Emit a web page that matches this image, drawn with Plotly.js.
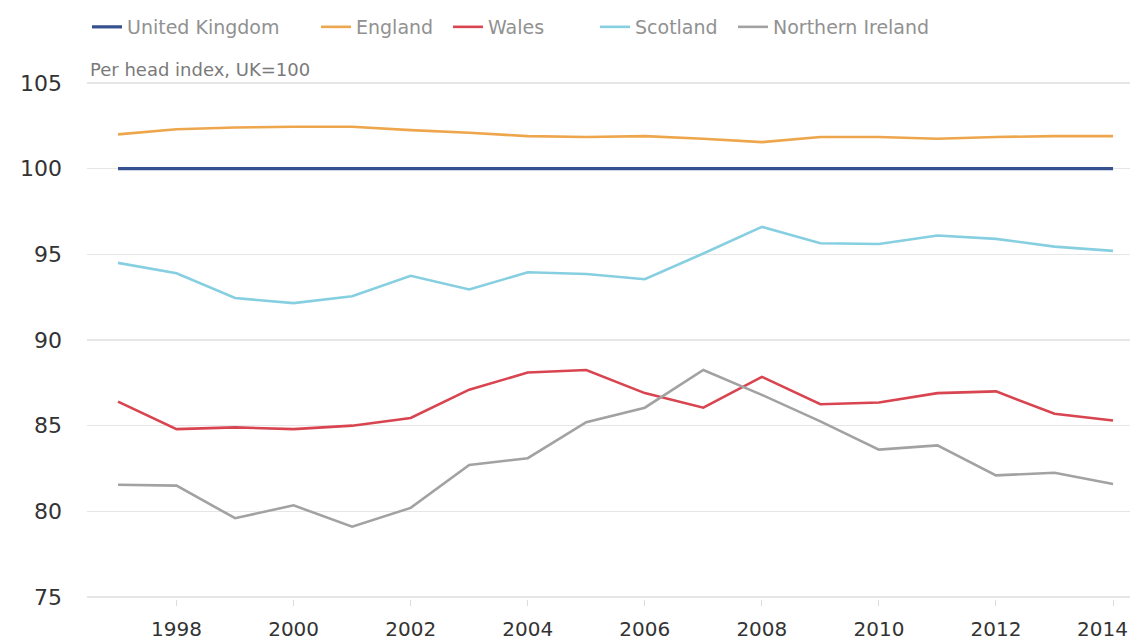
<!DOCTYPE html>
<html>
<head>
<meta charset="utf-8">
<script src="https://cdn.plot.ly/plotly-3.0.1.min.js"></script>
<style>
  html, body { margin: 0; padding: 0; background: #ffffff; }
  #chart { width: 1136px; height: 641px; }
</style>
</head>
<body>
<div id="chart"></div>
<script>
const years = [1997, 1998, 1999, 2000, 2001, 2002, 2003, 2004, 2005, 2006, 2007, 2008, 2009, 2010, 2011, 2012, 2013, 2014];

const unitedKingdom = [100, 100, 100, 100, 100, 100, 100, 100, 100, 100, 100, 100, 100, 100, 100, 100, 100, 100];
const england = [102.0, 102.3, 102.4, 102.45, 102.45, 102.25, 102.1, 101.9, 101.85, 101.9, 101.75, 101.55, 101.85, 101.85, 101.75, 101.85, 101.9, 101.9];
const wales = [86.4, 84.8, 84.9, 84.8, 85.0, 85.45, 87.1, 88.1, 88.25, 86.9, 86.05, 87.85, 86.25, 86.35, 86.9, 87.0, 85.7, 85.3];
const scotland = [94.5, 93.9, 92.45, 92.15, 92.55, 93.75, 92.95, 93.95, 93.85, 93.55, 95.05, 96.6, 95.65, 95.6, 96.1, 95.9, 95.45, 95.2];
const northernIreland = [81.55, 81.5, 79.6, 80.35, 79.1, 80.2, 82.7, 83.1, 85.2, 86.05, 88.25, 86.8, 85.25, 83.6, 83.85, 82.1, 82.25, 81.6];

const seriesNames = ["United Kingdom", "England", "Wales", "Scotland", "Northern Ireland"];
const xTickValues = [1998, 2000, 2002, 2004, 2006, 2008, 2010, 2012, 2014];
const xTickLabels = ["1998", "2000", "2002", "2004", "2006", "2008", "2010", "2012", "2014"];
const yTickValues = [75, 80, 85, 90, 95, 100, 105];
const yTickLabels = ["75", "80", "85", "90", "95", "100", "105"];
const subtitleText = "Per head index, UK=100";

const seriesValues = [unitedKingdom, england, wales, scotland, northernIreland];
const seriesColors = ["#34508f", "#eea64c", "#d8444f", "#86cfe1", "#a2a2a2"];
const seriesWidths = [3.2, 2.6, 2.6, 2.6, 2.6];
const legendIds = ["legend", "legend2", "legend3", "legend4", "legend5"];

const traces = seriesNames.map((name, i) => ({
  type: "scatter",
  mode: "lines",
  name: name,
  x: years,
  y: seriesValues[i],
  line: { color: seriesColors[i], width: seriesWidths[i] },
  legend: legendIds[i],
  hoverinfo: "x+y+name"
}));

const plotLeft = 87, plotRight = 1130, plotTop = 81, plotBottom = 599;
const pxPerUnit = (597 - 83) / 30;
const pw = plotRight - plotLeft, ph = plotBottom - plotTop;
function px2x(p) { return (p - plotLeft) / pw; }
function py2y(p) { return (plotBottom - p) / ph; }

const tickFont = { family: "DejaVu Sans", size: 20, color: "#333333" };
const lastIdx = xTickValues.length - 1;
// The last tick label sits at the right edge; it is drawn as an annotation
// anchored to the axis value and nudged left so it stays fully visible.
const shownTickText = xTickLabels.map((t, i) => (i === lastIdx ? "" : t));

const legendTextStarts = [129, 358, 490, 637, 775];
const legendFont = { family: "DejaVu Sans", size: 19, color: "#919191" };

const layout = {
  width: 1136,
  height: 641,
  autosize: false,
  paper_bgcolor: "#ffffff",
  plot_bgcolor: "#ffffff",
  margin: { l: plotLeft, r: 1136 - plotRight, t: plotTop, b: 641 - plotBottom, pad: 0 },
  showlegend: true,
  xaxis: {
    range: [1996.47, 2014.29],
    tickmode: "array",
    tickvals: xTickValues,
    ticktext: shownTickText,
    ticks: "outside",
    ticklen: 6,
    tickwidth: 1,
    tickcolor: "#dcdcdc",
    showgrid: false,
    zeroline: false,
    showline: false,
    ticklabelstandoff: 6,
    tickfont: tickFont,
    fixedrange: true
  },
  yaxis: {
    range: [75 - 2 / pxPerUnit, 105 + 2 / pxPerUnit],
    tickmode: "array",
    tickvals: yTickValues,
    ticktext: yTickLabels,
    ticks: "",
    showgrid: true,
    gridcolor: "#e6e6e6",
    gridwidth: 1.5,
    zeroline: false,
    showline: false,
    ticklabelstandoff: 24,
    tickfont: { family: "DejaVu Sans", size: 22, color: "#333333" },
    fixedrange: true
  },
  annotations: [
    {
      text: subtitleText,
      xref: "paper", yref: "paper",
      x: px2x(88), y: py2y(69),
      xanchor: "left", yanchor: "middle",
      showarrow: false,
      font: { family: "DejaVu Sans", size: 18, color: "#7a7a7a" }
    },
    {
      text: xTickLabels[lastIdx],
      xref: "x", yref: "paper",
      x: xTickValues[lastIdx], y: py2y(629),
      xanchor: "center", yanchor: "middle",
      xshift: -11,
      showarrow: false,
      font: tickFont
    }
  ]
};

legendIds.forEach((id, i) => {
  layout[id] = {
    orientation: "h",
    x: px2x(legendTextStarts[i] - 42),
    y: py2y(27),
    xanchor: "left",
    yanchor: "middle",
    bgcolor: "rgba(0,0,0,0)",
    borderwidth: 0,
    font: legendFont,
    itemwidth: 30
  };
});

Plotly.newPlot("chart", traces, layout, { displayModeBar: false, staticPlot: true });
</script>
</body>
</html>
